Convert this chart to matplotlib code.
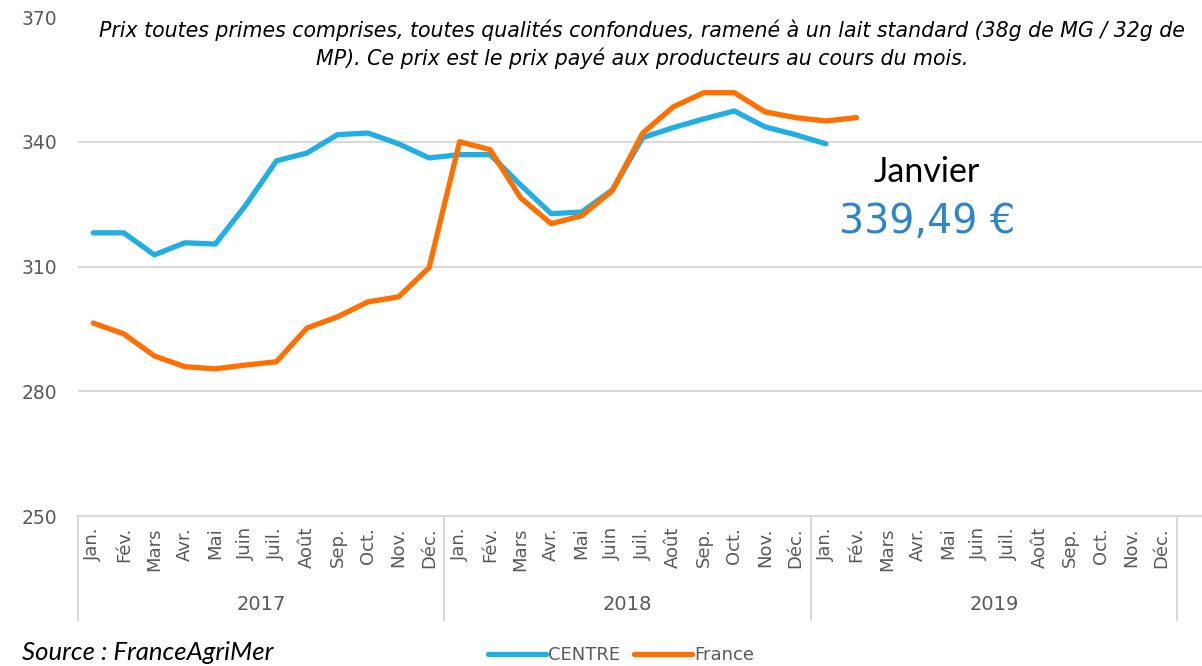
import matplotlib.pyplot as plt
from matplotlib.lines import Line2D

plt.rcParams['font.family'] = ['DejaVu Sans']

mois = ["Jan.", "Fév.", "Mars", "Avr.", "Mai", "Juin", "Juil.", "Août",
        "Sep.", "Oct.", "Nov.", "Déc."]
annees = ["2017", "2018", "2019"]

# prix en euros / 1000 l, janvier 2017 -> fevrier 2019
centre = [318.1, 318.1, 312.8, 315.7, 315.4, 324.8, 335.4, 337.3, 341.7, 342.1, 339.5, 336.1,
          336.9, 336.9, 329.6, 322.7, 323.1, 328.4, 341.0, 343.4, 345.5, 347.4, 343.6, 341.7,
          339.49]
france = [296.4, 293.8, 288.5, 285.9, 285.4, 286.3, 287.1, 295.2, 297.9, 301.5, 302.7, 309.7,
          340.0, 338.1, 326.5, 320.3, 322.2, 328.2, 342.1, 348.4, 351.8, 351.8, 347.2, 345.8,
          345.0, 345.8]

yticks = [250, 280, 310, 340, 370]
grey = "#595959"
gridc = "#D9D9D9"
c_centre = "#20AEE4"
c_france = "#FF7000"

W, H = 1202, 666
fig = plt.figure(figsize=(W / 100, H / 100), dpi=100)
x0, x1 = 78, 1202
y0, y1 = 516, 17
ax = fig.add_axes([x0 / W, 1 - y0 / H, (x1 - x0) / W, (y0 - y1) / H])

nmois = len(mois) * len(annees)
step = (1177 - 78) / nmois
ax.set_xlim(-0.5, -0.5 + (x1 - x0) / step)
ax.set_ylim(250, 370)

for v in yticks[1:-1]:
    ax.axhline(v, color=gridc, lw=1.5, zorder=1)

for s in ["top", "right", "left"]:
    ax.spines[s].set_visible(False)
ax.spines["bottom"].set_color(gridc)
ax.spines["bottom"].set_linewidth(1.5)

ax.set_yticks(yticks)
ax.set_yticklabels([str(v) for v in yticks], fontsize=13.5, color=grey)
ax.tick_params(axis="y", length=0, pad=15)

ax.set_xticks(range(nmois))
ax.set_xticklabels(mois * len(annees), rotation=90, fontsize=13, color=grey, va="top")
ax.tick_params(axis="x", length=0, pad=8)

ax.plot(range(len(centre)), centre, color=c_centre, lw=3.8, solid_capstyle="round",
        solid_joinstyle="round", zorder=3)
ax.plot(range(len(france)), france, color=c_france, lw=3.8, solid_capstyle="round",
        solid_joinstyle="round", zorder=4)

# separateurs d'annees et libelles
trans = ax.get_xaxis_transform()
for i in range(len(annees) + 1):
    xs = i * 12 - 0.5
    ax.plot([xs, xs], [0, -(620 - y0) / (y0 - y1)], transform=trans, color=gridc,
            lw=1.5, clip_on=False)
for i, a in enumerate(annees):
    ax.text(i * 12 + 5.5, -(605 - y0) / (y0 - y1), a, transform=trans, ha="center",
            va="center", fontsize=14, color=grey)

fig.text(642 / W, 1 - 30 / H,
         "Prix toutes primes comprises, toutes qualités confondues, ramené à un lait standard (38g de MG / 32g de",
         ha="center", va="center", fontsize=14.8, style="italic", color="black")
fig.text(642 / W, 1 - 58 / H,
         "MP). Ce prix est le prix payé aux producteurs au cours du mois.",
         ha="center", va="center", fontsize=14.8, style="italic", color="black")

fig.text(927 / W, 1 - 172 / H, "Janvier", ha="center", va="center", fontsize=24.5,
         color="black", family="Lato")
fig.text(927 / W, 1 - 222 / H, "339,49 €", ha="center", va="center", fontsize=28.5,
         color="#2E86C8")

fig.text(22 / W, 1 - 652 / H, "Source : FranceAgriMer", ha="left", va="center",
         fontsize=18.5, style="italic", color="black", family="Lato")

handles = [Line2D([], [], color=c_centre, lw=3.8, solid_capstyle="round"),
           Line2D([], [], color=c_france, lw=3.8, solid_capstyle="round")]
fig.legend(handles, ["CENTRE", "France"], loc="center", bbox_to_anchor=(621 / W, 1 - 655 / H),
           ncol=2, frameon=False, fontsize=13, labelcolor=grey, handlelength=3.2,
           handletextpad=0.1, columnspacing=0.8)

fig.savefig("out.png", dpi=100)
